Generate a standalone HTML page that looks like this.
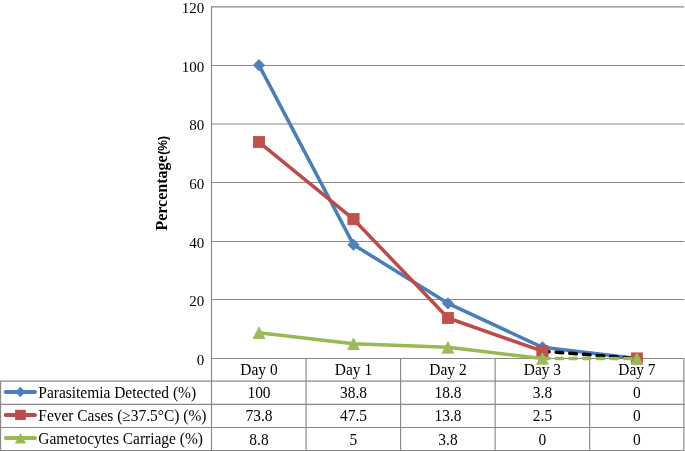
<!DOCTYPE html>
<html lang="en">
<head>
<meta charset="utf-8">
<title>Chart</title>
<style>
html,body{margin:0;padding:0;background:#fff;}
body{width:685px;height:451px;overflow:hidden;}
svg{display:block;will-change:transform;}
text{font-family:"Liberation Serif","Times New Roman",serif;fill:#000;}
</style>
</head>
<body>
<svg width="685" height="451" viewBox="0 0 685 451">
<rect width="685" height="451" fill="#fff"/>
<g stroke="#888888" stroke-width="1.15" fill="none">
<line x1="211.00" y1="358.50" x2="684.2" y2="358.50"/>
<line x1="211.00" y1="299.50" x2="684.2" y2="299.50"/>
<line x1="211.00" y1="241.50" x2="684.2" y2="241.50"/>
<line x1="211.00" y1="182.50" x2="684.2" y2="182.50"/>
<line x1="211.00" y1="124.00" x2="684.2" y2="124.00"/>
<line x1="211.00" y1="65.50" x2="684.2" y2="65.50"/>
<line x1="211.00" y1="6.85" x2="684.2" y2="6.85"/>
<line x1="211.50" y1="6.20" x2="211.50" y2="451.00"/>
<line x1="0" y1="381.15" x2="684.4" y2="381.15"/>
<line x1="0" y1="404.40" x2="684.4" y2="404.40"/>
<line x1="0" y1="427.50" x2="684.4" y2="427.50"/>
<line x1="0" y1="450.50" x2="684.4" y2="450.50"/>
<line x1="0.6" y1="381.15" x2="0.6" y2="451"/>
<line x1="306.05" y1="358.50" x2="306.05" y2="451"/>
<line x1="400.60" y1="358.50" x2="400.60" y2="451"/>
<line x1="495.15" y1="358.50" x2="495.15" y2="451"/>
<line x1="589.70" y1="358.50" x2="589.70" y2="451"/>
<line x1="683.85" y1="358.50" x2="683.85" y2="451"/>
</g>
<text x="204.3" y="364.90" font-size="15.00" text-anchor="end">0</text>
<text x="204.3" y="306.23" font-size="15.00" text-anchor="end">20</text>
<text x="204.3" y="247.57" font-size="15.00" text-anchor="end">40</text>
<text x="204.3" y="188.90" font-size="15.00" text-anchor="end">60</text>
<text x="204.3" y="130.23" font-size="15.00" text-anchor="end">80</text>
<text x="204.3" y="71.57" font-size="15.00" text-anchor="end">100</text>
<text x="204.3" y="12.90" font-size="15.00" text-anchor="end">120</text>
<g transform="translate(167.4,230.6) rotate(-90)"><text x="0" y="0" font-size="16" font-weight="bold">Percentage<tspan dx="0.6" dy="-0.8" font-family="'Liberation Sans',Arial,sans-serif" font-size="12" font-weight="bold">(%)</tspan></text></g>
<polyline points="259.00,65.17 353.48,244.69 447.96,303.35 542.44,347.35 636.92,358.50" fill="none" stroke="#4a7ebb" stroke-width="3.5" stroke-linejoin="round" stroke-linecap="round"/>
<g fill="#4f81bd" stroke="#4a7ebb" stroke-width="0.8"><path d="M259.00 59.47L264.70 65.17L259.00 70.87L253.30 65.17Z"/><path d="M353.48 238.99L359.18 244.69L353.48 250.39L347.78 244.69Z"/><path d="M447.96 297.65L453.66 303.35L447.96 309.05L442.26 303.35Z"/><path d="M542.44 341.65L548.14 347.35L542.44 353.05L536.74 347.35Z"/><path d="M636.92 352.80L642.62 358.50L636.92 364.20L631.22 358.50Z"/></g>
<polyline points="259.00,142.02 353.48,219.17 447.96,318.02 542.44,351.17" fill="none" stroke="#be4b48" stroke-width="3.5" stroke-linejoin="round" stroke-linecap="round"/>
<line x1="542.44" y1="351.17" x2="636.92" y2="358.50" stroke="#000" stroke-width="3.5" stroke-linecap="round" stroke-dasharray="6.6 7.1"/>
<g fill="#c0504d" stroke="#be4b48" stroke-width="0.8"><rect x="253.40" y="136.42" width="11.20" height="11.20"/><rect x="347.88" y="213.57" width="11.20" height="11.20"/><rect x="442.36" y="312.42" width="11.20" height="11.20"/><rect x="536.84" y="345.57" width="11.20" height="11.20"/><rect x="631.32" y="352.90" width="11.20" height="11.20"/></g>
<polyline points="259.00,332.69 353.48,343.83 447.96,347.35 542.44,358.50" fill="none" stroke="#98b954" stroke-width="3.5" stroke-linejoin="round" stroke-linecap="round"/>
<line x1="542.44" y1="358.50" x2="636.92" y2="358.50" stroke="#98b954" stroke-width="3.5" stroke-linecap="round" stroke-dasharray="6.6 7.1"/>
<g fill="#9bbb59" stroke="#98b954" stroke-width="0.8" stroke-linejoin="miter"><path d="M259.00 326.89L264.80 338.49L253.20 338.49Z"/><path d="M353.48 338.03L359.28 349.63L347.68 349.63Z"/><path d="M447.96 341.55L453.76 353.15L442.16 353.15Z"/><path d="M542.44 352.70L548.24 364.30L536.64 364.30Z"/><path d="M636.92 352.70L642.72 364.30L631.12 364.30Z"/></g>
<text transform="translate(259.00,375.30) scale(1,1.03)" font-size="15.45" text-anchor="middle">Day 0</text>
<text transform="translate(353.48,375.30) scale(1,1.03)" font-size="15.45" text-anchor="middle">Day 1</text>
<text transform="translate(447.96,375.30) scale(1,1.03)" font-size="15.45" text-anchor="middle">Day 2</text>
<text transform="translate(542.44,375.30) scale(1,1.03)" font-size="15.45" text-anchor="middle">Day 3</text>
<text transform="translate(636.92,375.30) scale(1,1.03)" font-size="15.45" text-anchor="middle">Day 7</text>
<line x1="5.7" y1="392.00" x2="35" y2="392.00" stroke="#4a7ebb" stroke-width="3.9" stroke-linecap="round"/>
<g fill="#4a7ebb"><path d="M20.35 386.70L25.25 392.00L20.35 397.30L15.45 392.00Z"/></g>
<text transform="translate(38.3,397.55) scale(1,1.04)" font-size="15.45">Parasitemia Detected (%)</text>
<text transform="translate(259.00,398.15) scale(1,1.07)" font-size="15.45" text-anchor="middle">100</text>
<text transform="translate(353.48,398.15) scale(1,1.07)" font-size="15.45" text-anchor="middle">38.8</text>
<text transform="translate(447.96,398.15) scale(1,1.07)" font-size="15.45" text-anchor="middle">18.8</text>
<text transform="translate(542.44,398.15) scale(1,1.07)" font-size="15.45" text-anchor="middle">3.8</text>
<text transform="translate(636.92,398.15) scale(1,1.07)" font-size="15.45" text-anchor="middle">0</text>
<line x1="5.7" y1="415.00" x2="35" y2="415.00" stroke="#be4b48" stroke-width="3.9" stroke-linecap="round"/>
<g fill="#be4b48"><rect x="15.1" y="409.80" width="10.7" height="10.2"/></g>
<text transform="translate(38.3,420.80) scale(1,1.04)" font-size="15.45">Fever Cases (≥37.5°C) (%)</text>
<text transform="translate(259.00,421.40) scale(1,1.07)" font-size="15.45" text-anchor="middle">73.8</text>
<text transform="translate(353.48,421.40) scale(1,1.07)" font-size="15.45" text-anchor="middle">47.5</text>
<text transform="translate(447.96,421.40) scale(1,1.07)" font-size="15.45" text-anchor="middle">13.8</text>
<text transform="translate(542.44,421.40) scale(1,1.07)" font-size="15.45" text-anchor="middle">2.5</text>
<text transform="translate(636.92,421.40) scale(1,1.07)" font-size="15.45" text-anchor="middle">0</text>
<line x1="5.7" y1="438.00" x2="35" y2="438.00" stroke="#98b954" stroke-width="3.9" stroke-linecap="round"/>
<g fill="#98b954"><path d="M20.5 433.00L26.05 443.50L14.95 443.50Z"/></g>
<text transform="translate(38.3,443.90) scale(1,1.04)" font-size="15.45">Gametocytes Carriage (%)</text>
<text transform="translate(259.00,444.50) scale(1,1.07)" font-size="15.45" text-anchor="middle">8.8</text>
<text transform="translate(353.48,444.50) scale(1,1.07)" font-size="15.45" text-anchor="middle">5</text>
<text transform="translate(447.96,444.50) scale(1,1.07)" font-size="15.45" text-anchor="middle">3.8</text>
<text transform="translate(542.44,444.50) scale(1,1.07)" font-size="15.45" text-anchor="middle">0</text>
<text transform="translate(636.92,444.50) scale(1,1.07)" font-size="15.45" text-anchor="middle">0</text>
</svg>
</body>
</html>
